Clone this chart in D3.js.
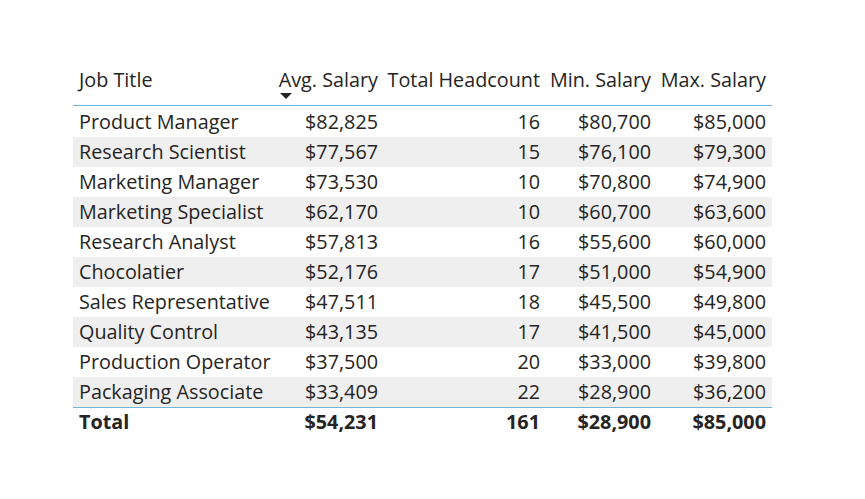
<!DOCTYPE html>
<html lang="en">
<head>
    <meta charset="UTF-8">
    <title>Salary table</title>
    <style>
        body { margin: 0; background: #fff; }
        svg text { font-family: "Open Sans", "Noto Sans", sans-serif; fill: #252423; }
    </style>
</head>
<body>
    <div id="box"></div>
</body>
<script src="https://d3js.org/d3.v7.min.js"></script>
<script>
    var headers = ['Job Title', 'Avg. Salary', 'Total Headcount', 'Min. Salary', 'Max. Salary'];
    var jobTitles = ['Product Manager', 'Research Scientist', 'Marketing Manager', 'Marketing Specialist',
        'Research Analyst', 'Chocolatier', 'Sales Representative', 'Quality Control',
        'Production Operator', 'Packaging Associate'];
    var avgSalary = [82825, 77567, 73530, 62170, 57813, 52176, 47511, 43135, 37500, 33409];
    var headcount = [16, 15, 10, 10, 16, 17, 18, 17, 20, 22];
    var minSalary = [80700, 76100, 70800, 60700, 55600, 51000, 45500, 41500, 33000, 28900];
    var maxSalary = [85000, 79300, 74900, 63600, 60000, 54900, 49800, 45000, 39800, 36200];
    var totals = ['Total', 54231, 161, 28900, 85000];

    var W = 865, H = 499;
    var left = 73, right = 772;
    // text anchor x for each column (first left aligned, rest right aligned)
    var colX = [79, 378, 540, 651, 766];
    var money = d3.format('$,');
    var fs = '19.8px';

    var rows = jobTitles.map(function (t, i) {
        return [t, money(avgSalary[i]), headcount[i], money(minSalary[i]), money(maxSalary[i])];
    });

    var svg = d3.select('#box').append('svg').attr('width', W).attr('height', H);

    var y = d3.scaleBand().domain(d3.range(rows.length + 1)).range([107, 437]);

    // header
    svg.selectAll('text.hd').data(headers).enter().append('text')
        .attr('class', 'hd')
        .attr('x', function (d, i) { return colX[i]; })
        .attr('y', 80)
        .attr('dy', '0.35em')
        .attr('text-anchor', function (d, i) { return i ? 'end' : 'start'; })
        .style('font-size', fs)
        .text(function (d) { return d; });

    // sort arrow under Avg. Salary
    svg.append('path').attr('d', 'M280,93L292,93L286,99Z').attr('fill', '#252423');

    // band rows
    var g = svg.selectAll('g.row').data(rows).enter().append('g').attr('class', 'row')
        .attr('transform', function (d, i) { return 'translate(0,' + y(i) + ')'; });
    g.append('rect')
        .attr('x', left).attr('width', right - left).attr('height', y.bandwidth())
        .attr('fill', function (d, i) { return i % 2 ? '#f0eff0' : '#fff'; });
    g.selectAll('text').data(function (d) { return d; }).enter().append('text')
        .attr('x', function (d, i) { return colX[i]; })
        .attr('y', y.bandwidth() / 2)
        .attr('dy', '0.35em')
        .attr('text-anchor', function (d, i) { return i ? 'end' : 'start'; })
        .style('font-size', fs)
        .text(function (d) { return d; });

    // total row
    var tr = svg.append('g').attr('transform', 'translate(0,' + y(rows.length) + ')');
    tr.selectAll('text').data(totals).enter().append('text')
        .attr('x', function (d, i) { return colX[i]; })
        .attr('y', y.bandwidth() / 2)
        .attr('dy', '0.35em')
        .attr('text-anchor', function (d, i) { return i ? 'end' : 'start'; })
        .style('font-size', fs)
        .style('font-weight', 'bold')
        .text(function (d, i) { return i == 0 || i == 2 ? d : money(d); });

    // lines
    svg.append('line').attr('x1', left).attr('x2', right).attr('y1', 105.5).attr('y2', 105.5)
        .attr('stroke', '#6fb5da').attr('stroke-width', 1.2);
    svg.append('line').attr('x1', left).attr('x2', right).attr('y1', y(rows.length) + 0.5).attr('y2', y(rows.length) + 0.5)
        .attr('stroke', '#6fb5da').attr('stroke-width', 1.2);
</script>
</html>
